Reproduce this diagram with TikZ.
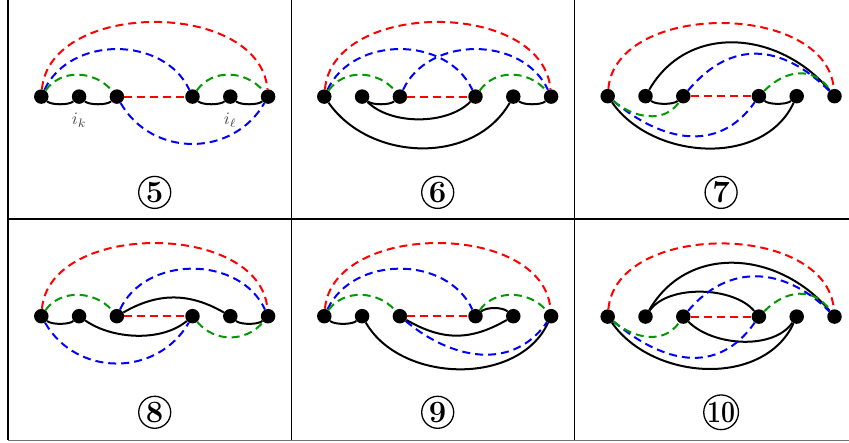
\documentclass[tikz,border=0pt]{standalone}
\usepackage{graphicx}
\definecolor{dgreen}{rgb}{0,0.6,0}
\tikzset{
  dot/.style={circle,fill=black,minimum size=14.5pt,inner sep=0pt},
  blk/.style={line width=2pt,black},
  redd/.style={line width=2pt,red,dash pattern=on 8pt off 5pt},
  blued/.style={line width=2pt,blue,dash pattern=on 8pt off 5pt},
  greend/.style={line width=2pt,dgreen,dash pattern=on 8pt off 5pt},
  circlab/.style={circle,draw,line width=1.3pt,minimum size=32pt,inner sep=0pt,font=\fontsize{31}{31}\selectfont\bfseries},
  lab/.style={text=black!72},
  tline/.style={line width=1.2pt,black},
}
\newcommand\mkrow[3]{\foreach \k/\p in {1/0,2/1,3/2,4/4,5/5,6/6} \node[dot] (#1\k) at ({#2+\p*37.8},#3) {};}
\begin{document}
\begin{tikzpicture}[x=1pt,y=1pt]
\useasboundingbox (0,0) rectangle (849,443);
% table
\coordinate (tl) at (8,443); \coordinate (bl) at (8,2.5);
\coordinate (v1t) at (291.5,443); \coordinate (v1b) at (291.5,2.5);
\coordinate (v2t) at (574.5,443); \coordinate (v2b) at (574.5,2.5);
\coordinate (hl) at (8,224); \coordinate (hr) at (849,224);
\coordinate (br) at (849,2.5);
\draw[tline] (tl) -- (bl);
\draw[tline] (v1t) -- (v1b);
\draw[tline] (v2t) -- (v2b);
\draw[tline] (hl) -- (hr);
\draw[line width=1.6pt,black!55] (bl) -- (br);
% nodes
\mkrow{A}{41.3}{346.4}
\mkrow{B}{324.3}{346.4}
\mkrow{C}{607.7}{346.8}
\mkrow{D}{41.3}{126.8}
\mkrow{E}{324.3}{126.8}
\mkrow{F}{607.7}{126.4}
% ---- cell 5
\draw[blk] (A1) to[out=-40,in=-140,distance=6] (A2);
\draw[blk] (A2) to[out=-40,in=-140,distance=6] (A3);
\draw[blk] (A4) to[out=-40,in=-140,distance=6] (A5);
\draw[blk] (A5) to[out=-40,in=-140,distance=6] (A6);
\draw[redd] (A3) -- (A4);
\draw[redd] (A1) to[out=85,in=95,distance=90] (A6);
\draw[blued] (A1) to[out=65,in=115,distance=60] (A4);
\draw[blued] (A3) to[out=-60,in=-120,distance=63] (A6);
\draw[greend] (A1) to[out=55,in=130,distance=27] (A3);
\draw[greend] (A4) to[out=55,in=130,distance=27] (A6);
\node[lab] (ik) at (79.1,322.5) {\scalebox{1.75}{$i_k$}};
\node[lab] (il) at (230.3,322.5) {\scalebox{1.75}{$i_\ell$}};
% ---- cell 6
\draw[blk] (B2) to[out=-40,in=-140,distance=6] (B3);
\draw[blk] (B5) to[out=-40,in=-140,distance=6] (B6);
\draw[blk] (B2) to[out=-45,in=-135,distance=33] (B4);
\draw[blk] (B1) to[out=-55,in=-120,distance=72] (B5);
\draw[redd] (B3) -- (B4);
\draw[redd] (B1) to[out=85,in=95,distance=90] (B6);
\draw[blued] (B1) to[out=65,in=115,distance=60] (B4);
\draw[blued] (B3) to[out=65,in=115,distance=60] (B6);
\draw[greend] (B1) to[out=55,in=130,distance=27] (B3);
\draw[greend] (B4) to[out=55,in=130,distance=27] (B6);
% ---- cell 7
\draw[blk] (C2) to[out=-40,in=-140,distance=6] (C3);
\draw[blk] (C4) to[out=-40,in=-140,distance=6] (C5);
\draw[blk] (C2) to[out=60,in=130,distance=78] (C6);
\draw[blk] (C1) to[out=-55,in=-115,distance=71] (C5);
\draw[redd] (C3) -- (C4);
\draw[redd] (C1) to[out=85,in=95,distance=88] (C6);
\draw[blued] (C3) to[out=50,in=135,distance=67] (C6);
\draw[blued] (C1) to[out=-40,in=-125,distance=63] (C4);
\draw[greend] (C4) to[out=45,in=125,distance=30] (C6);
\draw[greend] (C1) to[out=-40,in=-125,distance=26.5] (C3);
% ---- cell 8
\draw[blk] (D1) to[out=-40,in=-140,distance=6] (D2);
\draw[blk] (D5) to[out=-40,in=-140,distance=6] (D6);
\draw[blk] (D3) to[out=30,in=150,distance=40] (D5);
\draw[blk] (D2) to[out=-35,in=-140,distance=33] (D4);
\draw[redd] (D3) -- (D4);
\draw[redd] (D1) to[out=85,in=95,distance=88] (D6);
\draw[greend] (D1) to[out=55,in=130,distance=26] (D3);
\draw[greend] (D4) to[out=-50,in=-130,distance=27] (D6);
\draw[blued] (D3) to[out=65,in=115,distance=60] (D6);
\draw[blued] (D1) to[out=-60,in=-120,distance=63] (D4);
% ---- cell 9
\draw[blk] (E1) to[out=-40,in=-140,distance=6] (E2);
\draw[blk] (E4) to[out=40,in=140,distance=7] (E5);
\draw[blk] (E3) to[out=-30,in=-150,distance=42] (E5);
\draw[blk] (E2) to[out=-60,in=-115,distance=70] (E6);
\draw[redd] (E3) -- (E4);
\draw[redd] (E1) to[out=85,in=95,distance=88] (E6);
\draw[blued] (E1) to[out=65,in=115,distance=60] (E4);
\draw[blued] (E3) to[out=-40,in=-125,distance=60] (E6);
\draw[greend] (E1) to[out=55,in=130,distance=26] (E3);
\draw[greend] (E4) to[out=55,in=130,distance=26] (E6);
% ---- cell 10
\draw[blk] (F2) to[out=60,in=130,distance=78] (F6);
\draw[blk] (F2) to[out=55,in=130,distance=32] (F4);
\draw[blk] (F3) to[out=-45,in=-125,distance=34] (F5);
\draw[blk] (F1) to[out=-55,in=-115,distance=71] (F5);
\draw[redd] (F3) -- (F4);
\draw[redd] (F1) to[out=85,in=95,distance=88] (F6);
\draw[blued] (F3) to[out=50,in=135,distance=63] (F6);
\draw[blued] (F1) to[out=-40,in=-125,distance=65] (F4);
\draw[greend] (F4) to[out=45,in=125,distance=30] (F6);
\draw[greend] (F1) to[out=-40,in=-125,distance=27] (F3);
% labels
\node[circlab] (l5) at (154.7,250.6) {5};
\node[circlab] (l6) at (437.7,250.6) {6};
\node[circlab] (l7) at (721.1,250.6) {7};
\node[circlab] (l8) at (154.7,30.7) {8};
\node[circlab] (l9) at (437.7,30.7) {9};
\node[circlab] (l10) at (721.1,30.7) {\scalebox{0.8}[1]{10}};
\end{tikzpicture}
\end{document}
